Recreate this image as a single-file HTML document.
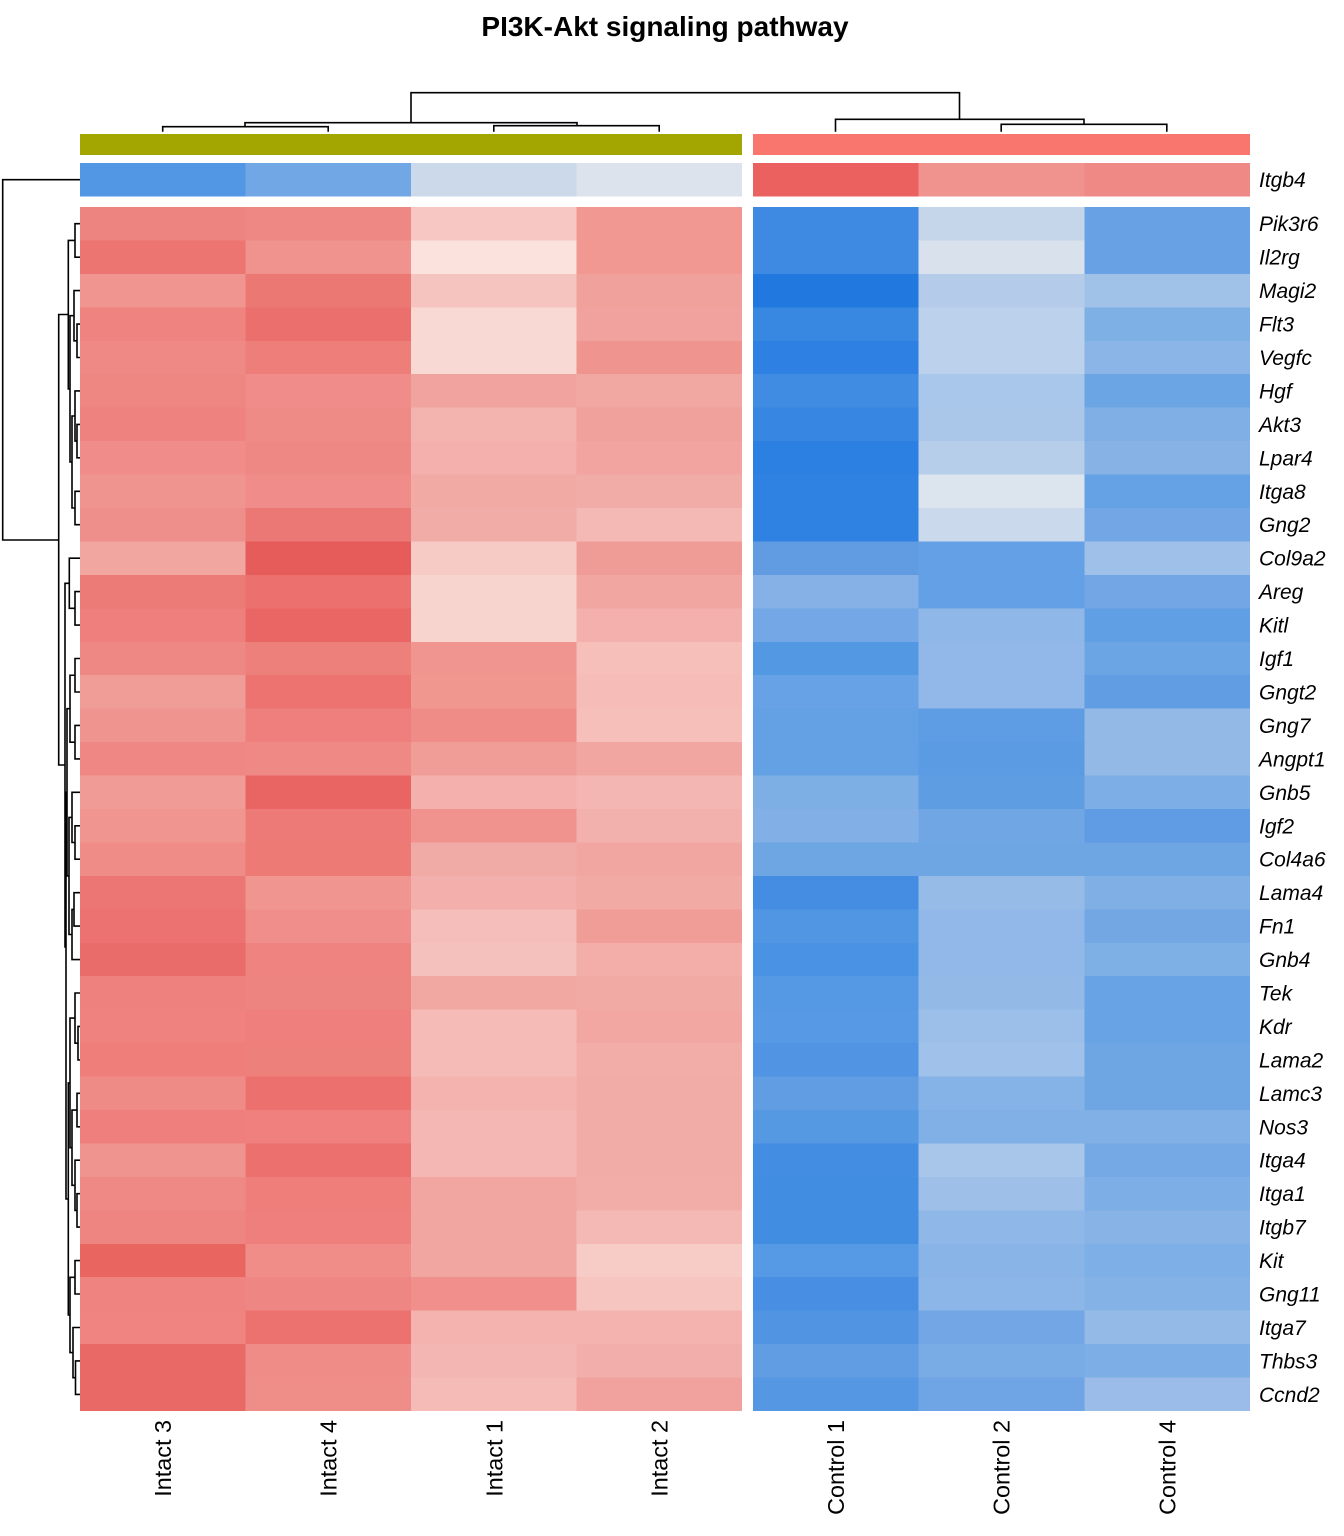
<!DOCTYPE html>
<html>
<head>
<meta charset="utf-8">
<style>
html,body{margin:0;padding:0;background:#fff;}
svg{display:block;}
.rl{font-family:"Liberation Sans",Arial,sans-serif;font-style:italic;font-size:21px;fill:#000;}
.cl{font-family:"Liberation Sans",Arial,sans-serif;font-size:23.4px;fill:#000;}
.tt{font-family:"Liberation Sans",Arial,sans-serif;font-weight:bold;font-size:28px;fill:#000;}
</style>
</head>
<body>
<svg width="1344" height="1536" viewBox="0 0 1344 1536" xmlns="http://www.w3.org/2000/svg">
<rect x="0" y="0" width="1344" height="1536" fill="#fff"/>
<text class="tt" x="665" y="36" text-anchor="middle">PI3K-Akt signaling pathway</text>

<!-- column dendrogram -->
<g fill="none" stroke="#000" stroke-width="1.6">
<path d="M411 122.7 V92.7 H959.5 V119.3"/>
<path d="M245 126.7 V122.7 H577 V125.7"/>
<path d="M162.7 131.7 V126.7 H328.2 V131.7"/>
<path d="M493.8 131.7 V125.7 H659.2 V131.7"/>
<path d="M835.5 131.7 V119.3 H1084 V124.3"/>
<path d="M1001.2 131.7 V124.3 H1166.8 V131.7"/>
</g>

<!-- annotation bar -->
<rect x="80" y="134" width="662" height="21" fill="#A3A500"/>
<rect x="753" y="134" width="497" height="21" fill="#F8766D"/>

<!-- row dendrogram -->
<g fill="none" stroke="#000" stroke-width="1.6">
<path d="M80 179.7 H2.7 V540 H58.7"/>
<path d="M68.3 314.5 H58.7 V765 H65"/>
<!-- A -->
<path d="M75 240.4 H68.3 V388.9 H70"/>
<path d="M80 223.7 H75 V257.2 H80"/>
<path d="M74 315.7 H70 V462 H72"/>
<path d="M80 324.1 H77 V357.5 H80"/>
<path d="M80 290.6 H74 V340.8 H77"/>
<path d="M80 424.4 H77 V457.8 H80"/>
<path d="M80 390.9 H75 V441.1 H77"/>
<path d="M80 491.3 H75 V524.7 H80"/>
<path d="M75 416 H72 V508 H75"/>
<!-- B -->
<path d="M69.3 583.3 H65 V947 H66"/>
<path d="M80 591.6 H75 V625.1 H80"/>
<path d="M80 558.2 H69.3 V608.35 H75"/>
<!-- B2 -->
<path d="M67 792.3 H66 V1199 H68.3"/>
<!-- P -->
<path d="M70 708.7 H67 V875.9 H69"/>
<path d="M80 658.5 H75 V692 H80"/>
<path d="M80 725.4 H75 V758.9 H80"/>
<path d="M75 675.25 H70 V742.15 H75"/>
<path d="M80 825.8 H75 V859.2 H80"/>
<path d="M80 792.3 H72 V842.5 H75"/>
<path d="M80 892.7 H74 V926.1 H80"/>
<path d="M74 909.4 H72 V959.6 H80"/>
<path d="M72 817.4 H69 V934.5 H72"/>
<!-- Q -->
<path d="M70 1082.9 H68.3 V1315 H70"/>
<path d="M80 1026.4 H78 V1059.9 H80"/>
<path d="M80 993 H75 V1043.15 H78"/>
<path d="M80 1093.3 H77 V1126.8 H80"/>
<path d="M80 1193.7 H77 V1227.1 H80"/>
<path d="M80 1160.2 H75 V1210.4 H77"/>
<path d="M77 1110.05 H72 V1185.3 H75"/>
<path d="M75 1018.1 H70 V1147.7 H72"/>
<path d="M80 1260.6 H75 V1294 H80"/>
<path d="M80 1360.9 H75.5 V1394.4 H80"/>
<path d="M80 1327.5 H73 V1377.65 H75.5"/>
<path d="M75 1277.3 H70 V1352.6 H73"/>
</g>

<!-- heatmap -->
<g shape-rendering="crispEdges">
<g transform="translate(0,163)">
<rect x="80" width="166" height="33.5" fill="#5297E3"/><rect x="245.5" width="166" height="33.5" fill="#72A7E5"/><rect x="411" width="166" height="33.5" fill="#CBD9EB"/><rect x="576.5" width="165.5" height="33.5" fill="#DDE3ED"/>
<rect x="753" width="166" height="33.5" fill="#EA6160"/><rect x="918.7" width="166" height="33.5" fill="#F0928E"/><rect x="1084.3" width="165.7" height="33.5" fill="#EE8985"/>
</g>
</g>
<g shape-rendering="crispEdges">
<g transform="translate(0,207)"><rect x="80" width="166" height="34" fill="#EE8480"/><rect x="245.5" width="166" height="34" fill="#EE8884"/><rect x="411" width="166" height="34" fill="#F7C8C3"/><rect x="576.5" width="165.5" height="34" fill="#F19893"/><rect x="753" width="166" height="34" fill="#3E8AE2"/><rect x="918.7" width="166" height="34" fill="#C5D6EB"/><rect x="1084.3" width="165.7" height="34" fill="#68A2E5"/></g>
<g transform="translate(0,240.44)"><rect x="80" width="166" height="34" fill="#EC7471"/><rect x="245.5" width="166" height="34" fill="#F0928E"/><rect x="411" width="166" height="34" fill="#FBE2DC"/><rect x="576.5" width="165.5" height="34" fill="#F19893"/><rect x="753" width="166" height="34" fill="#3E8AE2"/><rect x="918.7" width="166" height="34" fill="#D9E2EC"/><rect x="1084.3" width="165.7" height="34" fill="#68A2E5"/></g>
<g transform="translate(0,273.89)"><rect x="80" width="166" height="34" fill="#F0958F"/><rect x="245.5" width="166" height="34" fill="#EC7874"/><rect x="411" width="166" height="34" fill="#F6C4BF"/><rect x="576.5" width="165.5" height="34" fill="#F1A19B"/><rect x="753" width="166" height="34" fill="#2179E0"/><rect x="918.7" width="166" height="34" fill="#B4CCEA"/><rect x="1084.3" width="165.7" height="34" fill="#A0C1E8"/></g>
<g transform="translate(0,307.33)"><rect x="80" width="166" height="34" fill="#EE837F"/><rect x="245.5" width="166" height="34" fill="#EB706D"/><rect x="411" width="166" height="34" fill="#F8D9D3"/><rect x="576.5" width="165.5" height="34" fill="#F2A29E"/><rect x="753" width="166" height="34" fill="#3887E1"/><rect x="918.7" width="166" height="34" fill="#BCD1EB"/><rect x="1084.3" width="165.7" height="34" fill="#7FB0E5"/></g>
<g transform="translate(0,340.78)"><rect x="80" width="166" height="34" fill="#EF8985"/><rect x="245.5" width="166" height="34" fill="#EE7E7A"/><rect x="411" width="166" height="34" fill="#F8D9D3"/><rect x="576.5" width="165.5" height="34" fill="#F0948F"/><rect x="753" width="166" height="34" fill="#2E81E2"/><rect x="918.7" width="166" height="34" fill="#BCD1EB"/><rect x="1084.3" width="165.7" height="34" fill="#8CB5E7"/></g>
<g transform="translate(0,374.22)"><rect x="80" width="166" height="34" fill="#EE8682"/><rect x="245.5" width="166" height="34" fill="#F08C89"/><rect x="411" width="166" height="34" fill="#F1A49F"/><rect x="576.5" width="165.5" height="34" fill="#F1A7A2"/><rect x="753" width="166" height="34" fill="#408CE3"/><rect x="918.7" width="166" height="34" fill="#A9C7EA"/><rect x="1084.3" width="165.7" height="34" fill="#6CA5E4"/></g>
<g transform="translate(0,407.67)"><rect x="80" width="166" height="34" fill="#ED827E"/><rect x="245.5" width="166" height="34" fill="#EF8B87"/><rect x="411" width="166" height="34" fill="#F3B3AF"/><rect x="576.5" width="165.5" height="34" fill="#F1A19C"/><rect x="753" width="166" height="34" fill="#3686E2"/><rect x="918.7" width="166" height="34" fill="#AAC7EA"/><rect x="1084.3" width="165.7" height="34" fill="#7FAFE5"/></g>
<g transform="translate(0,441.11)"><rect x="80" width="166" height="34" fill="#F08C8A"/><rect x="245.5" width="166" height="34" fill="#EE8884"/><rect x="411" width="166" height="34" fill="#F3B0AC"/><rect x="576.5" width="165.5" height="34" fill="#F2A5A0"/><rect x="753" width="166" height="34" fill="#2C80E2"/><rect x="918.7" width="166" height="34" fill="#B6CEEA"/><rect x="1084.3" width="165.7" height="34" fill="#86B2E6"/></g>
<g transform="translate(0,474.56)"><rect x="80" width="166" height="34" fill="#F0948F"/><rect x="245.5" width="166" height="34" fill="#F08D8A"/><rect x="411" width="166" height="34" fill="#F2AAA5"/><rect x="576.5" width="165.5" height="34" fill="#F2ACA7"/><rect x="753" width="166" height="34" fill="#2F82E2"/><rect x="918.7" width="166" height="34" fill="#DCE4EE"/><rect x="1084.3" width="165.7" height="34" fill="#64A1E5"/></g>
<g transform="translate(0,508)"><rect x="80" width="166" height="34" fill="#EF8F8B"/><rect x="245.5" width="166" height="34" fill="#EB7874"/><rect x="411" width="166" height="34" fill="#F2ACA7"/><rect x="576.5" width="165.5" height="34" fill="#F4B9B4"/><rect x="753" width="166" height="34" fill="#2F82E2"/><rect x="918.7" width="166" height="34" fill="#CBD9EC"/><rect x="1084.3" width="165.7" height="34" fill="#72A6E5"/></g>
<g transform="translate(0,541.44)"><rect x="80" width="166" height="34" fill="#F1A6A0"/><rect x="245.5" width="166" height="34" fill="#E65C5A"/><rect x="411" width="166" height="34" fill="#F6CAC5"/><rect x="576.5" width="165.5" height="34" fill="#F09C96"/><rect x="753" width="166" height="34" fill="#619CE3"/><rect x="918.7" width="166" height="34" fill="#64A0E5"/><rect x="1084.3" width="165.7" height="34" fill="#9FC0E8"/></g>
<g transform="translate(0,574.89)"><rect x="80" width="166" height="34" fill="#EC7A76"/><rect x="245.5" width="166" height="34" fill="#EC706D"/><rect x="411" width="166" height="34" fill="#F7D4CE"/><rect x="576.5" width="165.5" height="34" fill="#F2A6A1"/><rect x="753" width="166" height="34" fill="#86B1E6"/><rect x="918.7" width="166" height="34" fill="#64A0E5"/><rect x="1084.3" width="165.7" height="34" fill="#72A6E5"/></g>
<g transform="translate(0,608.33)"><rect x="80" width="166" height="34" fill="#EE7F7C"/><rect x="245.5" width="166" height="34" fill="#E96664"/><rect x="411" width="166" height="34" fill="#F7D4CE"/><rect x="576.5" width="165.5" height="34" fill="#F4B0AD"/><rect x="753" width="166" height="34" fill="#73A7E5"/><rect x="918.7" width="166" height="34" fill="#8FB8E8"/><rect x="1084.3" width="165.7" height="34" fill="#619FE4"/></g>
<g transform="translate(0,641.78)"><rect x="80" width="166" height="34" fill="#EE8884"/><rect x="245.5" width="166" height="34" fill="#EE807C"/><rect x="411" width="166" height="34" fill="#F0958F"/><rect x="576.5" width="165.5" height="34" fill="#F6BFBA"/><rect x="753" width="166" height="34" fill="#5398E3"/><rect x="918.7" width="166" height="34" fill="#91B8E8"/><rect x="1084.3" width="165.7" height="34" fill="#6CA5E4"/></g>
<g transform="translate(0,675.22)"><rect x="80" width="166" height="34" fill="#F09C97"/><rect x="245.5" width="166" height="34" fill="#EC7370"/><rect x="411" width="166" height="34" fill="#F0988F"/><rect x="576.5" width="165.5" height="34" fill="#F6BCB7"/><rect x="753" width="166" height="34" fill="#66A2E5"/><rect x="918.7" width="166" height="34" fill="#91B8E8"/><rect x="1084.3" width="165.7" height="34" fill="#609DE3"/></g>
<g transform="translate(0,708.67)"><rect x="80" width="166" height="34" fill="#F09490"/><rect x="245.5" width="166" height="34" fill="#EE7F7C"/><rect x="411" width="166" height="34" fill="#EF8C88"/><rect x="576.5" width="165.5" height="34" fill="#F6BFBA"/><rect x="753" width="166" height="34" fill="#63A0E4"/><rect x="918.7" width="166" height="34" fill="#5E9CE3"/><rect x="1084.3" width="165.7" height="34" fill="#93B9E7"/></g>
<g transform="translate(0,742.11)"><rect x="80" width="166" height="34" fill="#EF8885"/><rect x="245.5" width="166" height="34" fill="#EF8985"/><rect x="411" width="166" height="34" fill="#F09D98"/><rect x="576.5" width="165.5" height="34" fill="#F2A6A1"/><rect x="753" width="166" height="34" fill="#63A0E4"/><rect x="918.7" width="166" height="34" fill="#5B9BE3"/><rect x="1084.3" width="165.7" height="34" fill="#93B9E7"/></g>
<g transform="translate(0,775.56)"><rect x="80" width="166" height="34" fill="#F09B95"/><rect x="245.5" width="166" height="34" fill="#E96563"/><rect x="411" width="166" height="34" fill="#F3B0AC"/><rect x="576.5" width="165.5" height="34" fill="#F4B6B2"/><rect x="753" width="166" height="34" fill="#7DAFE5"/><rect x="918.7" width="166" height="34" fill="#5F9DE3"/><rect x="1084.3" width="165.7" height="34" fill="#7DAEE6"/></g>
<g transform="translate(0,809)"><rect x="80" width="166" height="34" fill="#F0958F"/><rect x="245.5" width="166" height="34" fill="#ED7A77"/><rect x="411" width="166" height="34" fill="#F0938F"/><rect x="576.5" width="165.5" height="34" fill="#F3B1AD"/><rect x="753" width="166" height="34" fill="#82B0E6"/><rect x="918.7" width="166" height="34" fill="#71A6E5"/><rect x="1084.3" width="165.7" height="34" fill="#5F9CE3"/></g>
<g transform="translate(0,842.44)"><rect x="80" width="166" height="34" fill="#F08C88"/><rect x="245.5" width="166" height="34" fill="#ED7A75"/><rect x="411" width="166" height="34" fill="#F1ABA6"/><rect x="576.5" width="165.5" height="34" fill="#F2A6A1"/><rect x="753" width="166" height="34" fill="#6EA6E4"/><rect x="918.7" width="166" height="34" fill="#6EA6E4"/><rect x="1084.3" width="165.7" height="34" fill="#6EA6E4"/></g>
<g transform="translate(0,875.89)"><rect x="80" width="166" height="34" fill="#EB7673"/><rect x="245.5" width="166" height="34" fill="#F0958F"/><rect x="411" width="166" height="34" fill="#F3AFAB"/><rect x="576.5" width="165.5" height="34" fill="#F2AAA5"/><rect x="753" width="166" height="34" fill="#448DE3"/><rect x="918.7" width="166" height="34" fill="#97BBE7"/><rect x="1084.3" width="165.7" height="34" fill="#7FAFE5"/></g>
<g transform="translate(0,909.33)"><rect x="80" width="166" height="34" fill="#EB7270"/><rect x="245.5" width="166" height="34" fill="#EF8E8A"/><rect x="411" width="166" height="34" fill="#F5BEBA"/><rect x="576.5" width="165.5" height="34" fill="#F09C97"/><rect x="753" width="166" height="34" fill="#5096E3"/><rect x="918.7" width="166" height="34" fill="#91B8E8"/><rect x="1084.3" width="165.7" height="34" fill="#72A7E4"/></g>
<g transform="translate(0,942.78)"><rect x="80" width="166" height="34" fill="#E96C6A"/><rect x="245.5" width="166" height="34" fill="#EE837F"/><rect x="411" width="166" height="34" fill="#F4C1BC"/><rect x="576.5" width="165.5" height="34" fill="#F3AEAA"/><rect x="753" width="166" height="34" fill="#4A92E3"/><rect x="918.7" width="166" height="34" fill="#91B8E8"/><rect x="1084.3" width="165.7" height="34" fill="#7EAFE5"/></g>
<g transform="translate(0,976.22)"><rect x="80" width="166" height="34" fill="#EE817D"/><rect x="245.5" width="166" height="34" fill="#EE847F"/><rect x="411" width="166" height="34" fill="#F1A7A2"/><rect x="576.5" width="165.5" height="34" fill="#F2AAA5"/><rect x="753" width="166" height="34" fill="#5598E4"/><rect x="918.7" width="166" height="34" fill="#93B9E7"/><rect x="1084.3" width="165.7" height="34" fill="#68A4E5"/></g>
<g transform="translate(0,1009.67)"><rect x="80" width="166" height="34" fill="#EF827E"/><rect x="245.5" width="166" height="34" fill="#EF7F7C"/><rect x="411" width="166" height="34" fill="#F5BCB7"/><rect x="576.5" width="165.5" height="34" fill="#F2A7A2"/><rect x="753" width="166" height="34" fill="#5799E4"/><rect x="918.7" width="166" height="34" fill="#9BBFE8"/><rect x="1084.3" width="165.7" height="34" fill="#68A3E5"/></g>
<g transform="translate(0,1043.11)"><rect x="80" width="166" height="34" fill="#EF7E7B"/><rect x="245.5" width="166" height="34" fill="#EE807C"/><rect x="411" width="166" height="34" fill="#F5BCB7"/><rect x="576.5" width="165.5" height="34" fill="#F3ADA8"/><rect x="753" width="166" height="34" fill="#5194E3"/><rect x="918.7" width="166" height="34" fill="#A0C1E9"/><rect x="1084.3" width="165.7" height="34" fill="#6EA6E4"/></g>
<g transform="translate(0,1076.56)"><rect x="80" width="166" height="34" fill="#EF8B87"/><rect x="245.5" width="166" height="34" fill="#EC706E"/><rect x="411" width="166" height="34" fill="#F4B3AF"/><rect x="576.5" width="165.5" height="34" fill="#F2ACA7"/><rect x="753" width="166" height="34" fill="#609DE3"/><rect x="918.7" width="166" height="34" fill="#86B3E7"/><rect x="1084.3" width="165.7" height="34" fill="#6EA6E4"/></g>
<g transform="translate(0,1110)"><rect x="80" width="166" height="34" fill="#EF7F7C"/><rect x="245.5" width="166" height="34" fill="#EF807D"/><rect x="411" width="166" height="34" fill="#F5B7B3"/><rect x="576.5" width="165.5" height="34" fill="#F2ACA7"/><rect x="753" width="166" height="34" fill="#5599E3"/><rect x="918.7" width="166" height="34" fill="#80B0E6"/><rect x="1084.3" width="165.7" height="34" fill="#80B0E6"/></g>
<g transform="translate(0,1143.44)"><rect x="80" width="166" height="34" fill="#F0948F"/><rect x="245.5" width="166" height="34" fill="#EC706D"/><rect x="411" width="166" height="34" fill="#F5B7B3"/><rect x="576.5" width="165.5" height="34" fill="#F2ACA7"/><rect x="753" width="166" height="34" fill="#438EE3"/><rect x="918.7" width="166" height="34" fill="#A8C6E9"/><rect x="1084.3" width="165.7" height="34" fill="#74A9E5"/></g>
<g transform="translate(0,1176.89)"><rect x="80" width="166" height="34" fill="#EF8985"/><rect x="245.5" width="166" height="34" fill="#EF7E7B"/><rect x="411" width="166" height="34" fill="#F1A6A1"/><rect x="576.5" width="165.5" height="34" fill="#F3ADA9"/><rect x="753" width="166" height="34" fill="#418DE2"/><rect x="918.7" width="166" height="34" fill="#9EC0E8"/><rect x="1084.3" width="165.7" height="34" fill="#7EAEE6"/></g>
<g transform="translate(0,1210.33)"><rect x="80" width="166" height="34" fill="#EF8581"/><rect x="245.5" width="166" height="34" fill="#EF7F7C"/><rect x="411" width="166" height="34" fill="#F1A6A1"/><rect x="576.5" width="165.5" height="34" fill="#F4B9B4"/><rect x="753" width="166" height="34" fill="#418DE2"/><rect x="918.7" width="166" height="34" fill="#8FB7E8"/><rect x="1084.3" width="165.7" height="34" fill="#87B3E7"/></g>
<g transform="translate(0,1243.78)"><rect x="80" width="166" height="34" fill="#E9655F"/><rect x="245.5" width="166" height="34" fill="#F08D88"/><rect x="411" width="166" height="34" fill="#F1A6A1"/><rect x="576.5" width="165.5" height="34" fill="#F7CBC6"/><rect x="753" width="166" height="34" fill="#5699E4"/><rect x="918.7" width="166" height="34" fill="#89B4E7"/><rect x="1084.3" width="165.7" height="34" fill="#7EAFE6"/></g>
<g transform="translate(0,1277.22)"><rect x="80" width="166" height="34" fill="#EE837F"/><rect x="245.5" width="166" height="34" fill="#EE8783"/><rect x="411" width="166" height="34" fill="#F08F8B"/><rect x="576.5" width="165.5" height="34" fill="#F7C5BF"/><rect x="753" width="166" height="34" fill="#488FE3"/><rect x="918.7" width="166" height="34" fill="#8DB6E8"/><rect x="1084.3" width="165.7" height="34" fill="#85B2E6"/></g>
<g transform="translate(0,1310.67)"><rect x="80" width="166" height="34" fill="#EF8480"/><rect x="245.5" width="166" height="34" fill="#EC726F"/><rect x="411" width="166" height="34" fill="#F4B3AF"/><rect x="576.5" width="165.5" height="34" fill="#F4B3AF"/><rect x="753" width="166" height="34" fill="#5194E2"/><rect x="918.7" width="166" height="34" fill="#72A6E5"/><rect x="1084.3" width="165.7" height="34" fill="#94BAE7"/></g>
<g transform="translate(0,1344.11)"><rect x="80" width="166" height="34" fill="#E96967"/><rect x="245.5" width="166" height="34" fill="#EF8C88"/><rect x="411" width="166" height="34" fill="#F4B6B2"/><rect x="576.5" width="165.5" height="34" fill="#F2AEAA"/><rect x="753" width="166" height="34" fill="#619DE3"/><rect x="918.7" width="166" height="34" fill="#79ABE5"/><rect x="1084.3" width="165.7" height="34" fill="#7DAEE6"/></g>
<g transform="translate(0,1377.56)"><rect x="80" width="166" height="33.44" fill="#E96967"/><rect x="245.5" width="166" height="33.44" fill="#EF8E89"/><rect x="411" width="166" height="33.44" fill="#F5BCB7"/><rect x="576.5" width="165.5" height="33.44" fill="#F2A29E"/><rect x="753" width="166" height="33.44" fill="#5597E3"/><rect x="918.7" width="166" height="33.44" fill="#6FA5E4"/><rect x="1084.3" width="165.7" height="33.44" fill="#9BBCE8"/></g>
</g>

<!-- row labels -->
<g class="rl">
<text x="1259" y="187.2">Itgb4</text>
<text x="1259" y="231.2">Pik3r6</text>
<text x="1259" y="264.7">Il2rg</text>
<text x="1259" y="298.1">Magi2</text>
<text x="1259" y="331.6">Flt3</text>
<text x="1259" y="365">Vegfc</text>
<text x="1259" y="398.4">Hgf</text>
<text x="1259" y="431.9">Akt3</text>
<text x="1259" y="465.3">Lpar4</text>
<text x="1259" y="498.8">Itga8</text>
<text x="1259" y="532.2">Gng2</text>
<text x="1259" y="565.7">Col9a2</text>
<text x="1259" y="599.1">Areg</text>
<text x="1259" y="632.6">Kitl</text>
<text x="1259" y="666">Igf1</text>
<text x="1259" y="699.5">Gngt2</text>
<text x="1259" y="732.9">Gng7</text>
<text x="1259" y="766.4">Angpt1</text>
<text x="1259" y="799.8">Gnb5</text>
<text x="1259" y="833.3">Igf2</text>
<text x="1259" y="866.7">Col4a6</text>
<text x="1259" y="900.2">Lama4</text>
<text x="1259" y="933.6">Fn1</text>
<text x="1259" y="967.1">Gnb4</text>
<text x="1259" y="1000.5">Tek</text>
<text x="1259" y="1033.9">Kdr</text>
<text x="1259" y="1067.4">Lama2</text>
<text x="1259" y="1100.8">Lamc3</text>
<text x="1259" y="1134.3">Nos3</text>
<text x="1259" y="1167.7">Itga4</text>
<text x="1259" y="1201.2">Itga1</text>
<text x="1259" y="1234.6">Itgb7</text>
<text x="1259" y="1268.1">Kit</text>
<text x="1259" y="1301.5">Gng11</text>
<text x="1259" y="1335">Itga7</text>
<text x="1259" y="1368.4">Thbs3</text>
<text x="1259" y="1401.9">Ccnd2</text>
</g>

<!-- column labels -->
<g class="cl" text-anchor="end">
<text transform="translate(171.2,1420) rotate(-90)">Intact 3</text>
<text transform="translate(336.7,1420) rotate(-90)">Intact 4</text>
<text transform="translate(502.3,1420) rotate(-90)">Intact 1</text>
<text transform="translate(667.7,1420) rotate(-90)">Intact 2</text>
<text transform="translate(844,1420) rotate(-90)">Control 1</text>
<text transform="translate(1009.7,1420) rotate(-90)">Control 2</text>
<text transform="translate(1175.3,1420) rotate(-90)">Control 4</text>
</g>
</svg>
</body>
</html>
